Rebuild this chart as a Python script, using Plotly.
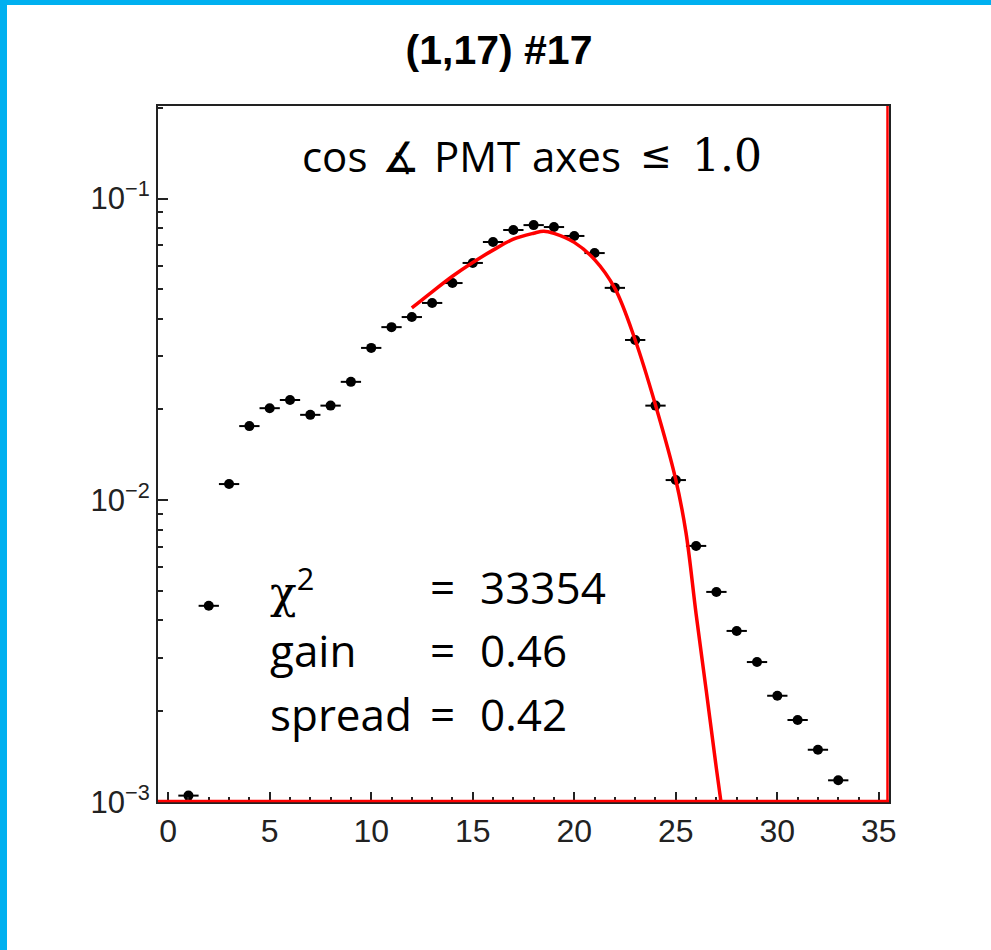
import plotly.graph_objects as go

# ---- data ----
bin_centers = [1, 2, 3, 4, 5, 6, 7, 8, 9, 10, 11, 12, 13, 14, 15, 16, 17,
               18, 19, 20, 21, 22, 23, 24, 25, 26, 27, 28, 29, 30, 31, 32, 33]
bin_contents = [0.00105, 0.00447, 0.01132, 0.01762, 0.0202, 0.0215, 0.0192,
                0.0206, 0.0247, 0.0320, 0.0375, 0.0405, 0.0451, 0.0525,
                0.0612, 0.0718, 0.0787, 0.0817, 0.0805, 0.0752, 0.0660,
                0.0506, 0.0340, 0.0206, 0.01167, 0.00706, 0.00497, 0.00369,
                0.00291, 0.00225, 0.00187, 0.00149, 0.00118]
bin_half_width = 0.5

fit_x = [12.0, 13.0, 14.0, 15.0, 16.0, 17.0, 18.0, 18.5, 19.0, 20.0, 21.0,
         22.0, 23.0, 24.0, 25.0, 25.5, 26.0, 26.5, 27.0, 27.3]
fit_y = [0.0434, 0.0491, 0.0553, 0.0614, 0.0675, 0.0734, 0.0768, 0.0780,
         0.0767, 0.0716, 0.0628, 0.0504, 0.0340, 0.0207, 0.0117, 0.00783,
         0.0042, 0.00234, 0.00129, 0.00092]

x_ticks = [0, 5, 10, 15, 20, 25, 30, 35]
y_major = [0.001, 0.01, 0.1]
y_minor = [m * d for d in (0.001, 0.01, 0.1) for m in range(2, 10)]

title_text = "<b>(1,17) #17</b>"
cut_words = ["cos", "∡", "PMT", "axes",
             "<span style='font-family:\"DejaVu Sans\"'>≤</span>",
             "<span style='font-family:\"DejaVu Serif\"'>1.0</span>"]
stat_labels = ["<span style='font-family:\"DejaVu Serif\"'>χ</span><sup>2</sup>", "gain", "spread"]
stat_values = ["33354", "0.46", "0.42"]

# ---- figure ----
W, H = 991, 950
ML, MR, MT, MB = 158, 102, 106, 148
PW, PH = W - ML - MR, H - MT - MB
TXT_FONT = "Open Sans, DejaVu Sans"

fig = go.Figure()
fig.add_trace(go.Scatter(
    x=bin_centers, y=bin_contents, mode="markers",
    marker=dict(color="black", size=10, symbol="circle"),
    error_x=dict(type="constant", value=bin_half_width, thickness=2,
                 width=0, color="black"),
    showlegend=False, cliponaxis=False,
))
fig.add_trace(go.Scatter(
    x=fit_x, y=fit_y, mode="lines",
    line=dict(color="#ff0000", width=3.5, shape="spline"),
    showlegend=False,
))

def px_x(p):
    return (p - ML) / PW

def px_y(p):
    return (H - MB - p) / PH

shapes = [
    # slide border (blue)
    dict(type="rect", xref="paper", yref="paper", x0=px_x(0), x1=px_x(7),
         y0=px_y(H), y1=px_y(0), fillcolor="#00B0F0", line_width=0, layer="above"),
    dict(type="rect", xref="paper", yref="paper", x0=px_x(0), x1=px_x(W),
         y0=px_y(5), y1=px_y(0), fillcolor="#00B0F0", line_width=0, layer="above"),
    # red fit-function lines on the frame
    dict(type="line", xref="paper", yref="paper", x0=0, x1=1,
         y0=px_y(801), y1=px_y(801), line=dict(color="#ff0000", width=2.5), layer="above"),
    dict(type="line", xref="paper", yref="paper", x0=px_x(887.5), x1=px_x(887.5),
         y0=0, y1=1, line=dict(color="#ff0000", width=2.5), layer="above"),
]

annotations = []
cut_word_x = [300, 380, 432, 530, 638, 690]
cut_word_size = [42, 42, 42, 42, 38, 44]
for wtxt, wx, ws in zip(cut_words, cut_word_x, cut_word_size):
    annotations.append(dict(text=wtxt, xref="paper", yref="paper", x=px_x(wx), y=px_y(155),
                            xanchor="left", yanchor="middle", showarrow=False,
                            font=dict(family=TXT_FONT, size=ws, color="black")))
rows_y = [587, 650, 714]
for lab, val, yy in zip(stat_labels, stat_values, rows_y):
    for txt, xx in ((lab, 268), ("=", 428), (val, 478)):
        annotations.append(dict(text=txt, xref="paper", yref="paper", x=px_x(xx), y=px_y(yy),
                                xanchor="left", yanchor="middle", showarrow=False,
                                font=dict(family=TXT_FONT, size=44, color="black")))

fig.update_layout(
    width=W, height=H,
    margin=dict(l=ML, r=MR, t=MT, b=MB),
    paper_bgcolor="white", plot_bgcolor="white",
    title=dict(text=title_text, x=499 / W, xref="container", xanchor="center",
               y=1 - 50 / H, yref="container", yanchor="middle",
               font=dict(family="Liberation Sans", size=41, color="black")),
    shapes=shapes, annotations=annotations,
    xaxis=dict(range=[-0.5, 35.5], tickmode="array", tickvals=x_ticks,
               ticks="inside", ticklen=10, tickwidth=1.5, tickcolor="#222",
               showline=True, linecolor="#222", linewidth=2, mirror=True,
               showgrid=False, zeroline=False,
               tickfont=dict(family="Liberation Sans", size=32, color="#222"),
               minor=dict(dtick=1, tick0=0, ticks="inside", ticklen=5,
                          tickwidth=1.5, tickcolor="#222", showgrid=False)),
    yaxis=dict(type="log", range=[-3, -0.693], tickmode="array", tickvals=y_major,
               ticktext=["10<sup>−3</sup>", "10<sup>−2</sup>", "10<sup>−1</sup>"],
               ticks="inside", ticklen=10, tickwidth=1.5, tickcolor="#222",
               showline=True, linecolor="#222", linewidth=2, mirror=True,
               showgrid=False, zeroline=False,
               tickfont=dict(family="Liberation Sans", size=31, color="#222"),
               minor=dict(tickmode="array", tickvals=y_minor, ticks="inside",
                          ticklen=5, tickwidth=1.5, tickcolor="#222", showgrid=False)),
)

fig.write_html("out.html")
